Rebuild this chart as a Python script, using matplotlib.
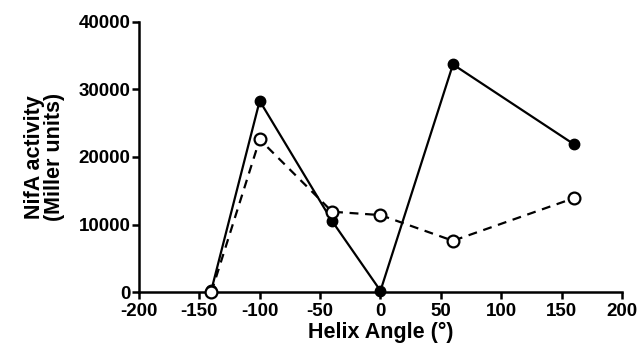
import matplotlib
matplotlib.use("Agg")
import matplotlib.pyplot as plt

angles = [-140, -100, -40, 0, 60, 160]
filled_vals = [300, 28300, 10500, 200, 33700, 21900]
open_vals = [0, 22600, 11900, 11400, 7600, 13900]
xticks = [-200, -150, -100, -50, 0, 50, 100, 150, 200]
yticks = [0, 10000, 20000, 30000, 40000]

plt.rcParams['font.family'] = ['Liberation Sans', 'DejaVu Sans']
plt.rcParams['font.weight'] = 'bold'
plt.rcParams['axes.unicode_minus'] = False

fig = plt.figure(figsize=(6.4, 3.58), dpi=100)
ax = fig.add_axes([0.217, 0.184, 0.755, 0.755])

ax.plot(angles, filled_vals, color='black', lw=1.6, marker='o', ms=7.5,
        mfc='black', mec='black', zorder=3)
ax.plot(angles, open_vals, color='black', lw=1.6, ls=(0, (4, 3)), marker='o', ms=8.5,
        mfc='white', mec='black', mew=1.6, zorder=4)

ax.set_xlim(-200, 200)
ax.set_ylim(0, 40000)
ax.set_xticks(xticks)
ax.set_yticks(yticks)
for s in ['top', 'right']:
    ax.spines[s].set_visible(False)
for s in ['left', 'bottom']:
    ax.spines[s].set_linewidth(1.8)
    ax.spines[s].set_clip_on(False)
ax.tick_params(direction='out', length=5, width=1.8, labelsize=13.5)
ax.tick_params(axis='x', pad=3)
ax.tick_params(axis='y', pad=1)
for lab in ax.get_xticklabels() + ax.get_yticklabels():
    lab.set_fontweight('bold')
for l in ax.lines:
    l.set_clip_on(False)

ax.set_xlabel('Helix Angle (°)', fontsize=15.5, fontweight='bold', labelpad=1)
ax.set_ylabel('NifA activity\n(Miller units)', fontsize=15.5, fontweight='bold',
              labelpad=10, linespacing=0.95)

fig.savefig('out.png', dpi=100)
